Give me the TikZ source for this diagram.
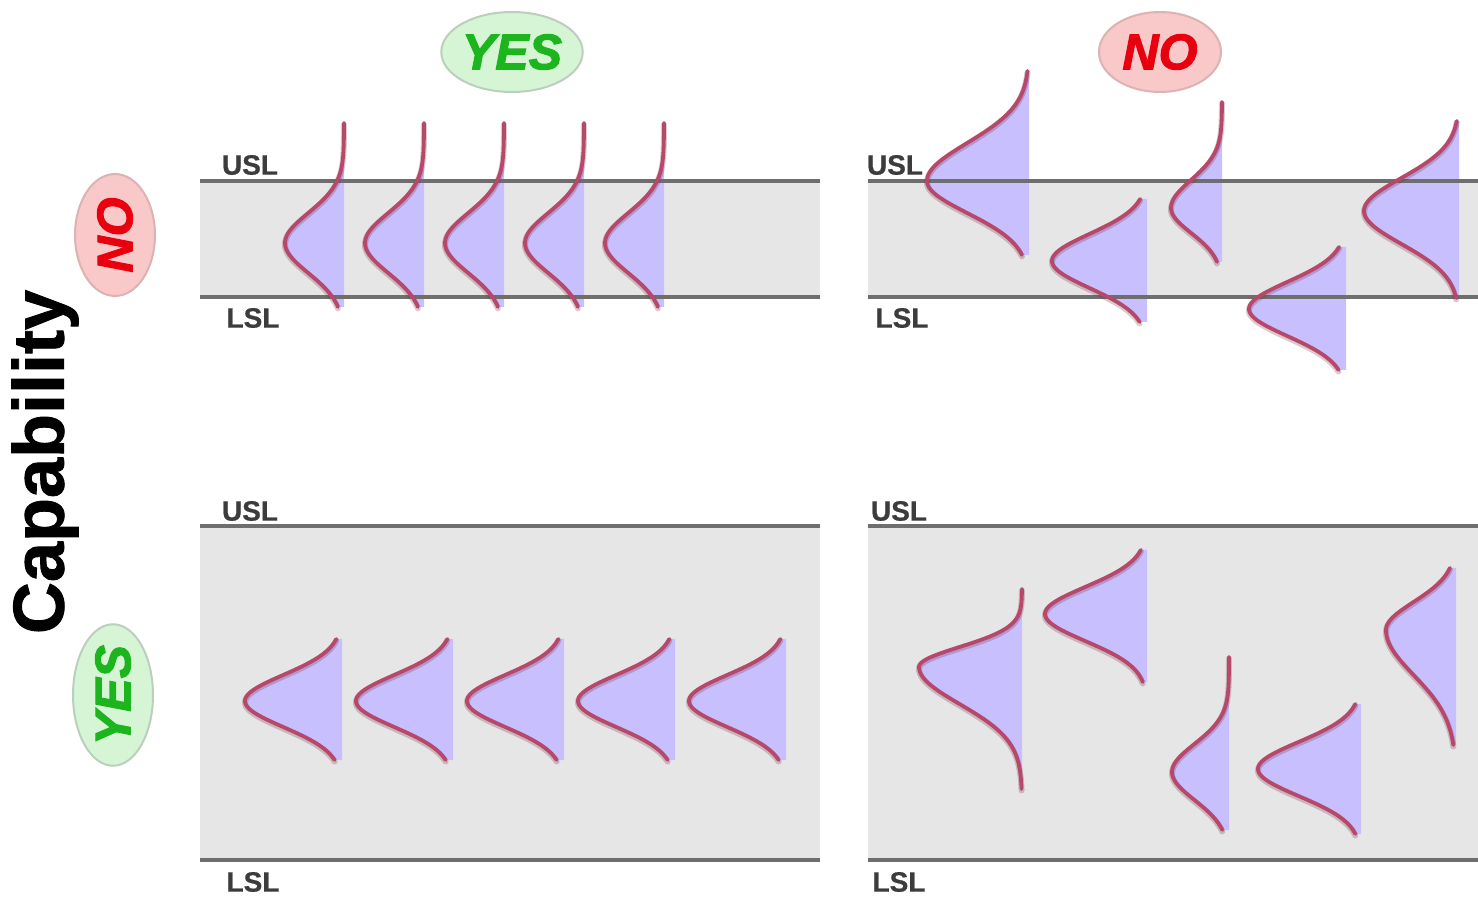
\documentclass[tikz,border=0pt]{standalone}
\usepackage{fontspec}
\setmainfont{Liberation Sans}
\newfontfamily\badgefont[BoldItalicFeatures={FakeBold=2.2}]{Liberation Sans}
\newfontfamily\titlefont[BoldFeatures={FakeBold=1.2}]{Liberation Sans}
\newfontfamily\limitfont[BoldFeatures={FakeBold=0.6}]{Liberation Sans}
\usetikzlibrary{shapes.geometric}

\definecolor{bandgray}{HTML}{E6E6E6}
\definecolor{limitline}{HTML}{6E6E6E}
\definecolor{labelgray}{HTML}{3C3C3C}
\definecolor{bellfill}{HTML}{C8BFFF}
\definecolor{bellline}{HTML}{B8486A}
\definecolor{yesfill}{HTML}{D5F5D5}
\definecolor{yesedge}{HTML}{BCCFBC}
\definecolor{yestext}{HTML}{1DB51D}
\definecolor{nofill}{HTML}{F9C8C8}
\definecolor{noedge}{HTML}{DDB2B2}
\definecolor{notext}{HTML}{E8000E}

\begin{document}
\begin{tikzpicture}[x=0.5pt,y=-0.5pt,
  limit/.style={draw=limitline,line width=2pt},
  lbl/.style={text=labelgray,font=\limitfont\fontsize{14}{14}\selectfont\bfseries,inner sep=0pt},
  verdict/.style={ellipse,minimum width=61pt,minimum height=40pt,inner sep=0pt,
    line width=1pt,font=\badgefont\fontsize{25}{25}\selectfont\bfseries\itshape},
  yesmark/.style={verdict,fill=yesfill,draw=yesedge,text=yestext},
  nomark/.style={verdict,fill=nofill,draw=noedge,text=notext},
  bellarea/.style={fill=bellfill},
  bellhalo/.style={draw=bellline!60!black,opacity=0.25,line width=3pt,line cap=round},
  bellcurve/.style={draw=bellline,line width=1.9pt,line cap=round,line join=round}]

\useasboundingbox (0,0) rectangle (1478,897);

% tolerance bands between the specification limits
\fill[bandgray] (200,181) rectangle (820,297);
\fill[bandgray] (868,181) rectangle (1478,297);
\fill[bandgray] (200,526) rectangle (820,860);
\fill[bandgray] (868,526) rectangle (1478,860);

% distributions: right edge / mean / height / sigma above / sigma below / extent above / extent below
\def\bells{344/243/59/30/30/120/64, 424/243/59/30/30/120/64, 504/243/59/30/30/120/64,
  584/243/59/30/30/120/64, 664/243/59/30/30/120/64,
  1029/181/102/38/32/110/74, 1147/261/95/27/27/62/61, 1222/208/51/28/25/106/54,
  1346/309/97/27/27/62/61, 1459/211/95/33/33/90/87,
  342/701/97/26/26/62/59, 453/701/97/26/26/62/59, 564/701/97/26/26/62/59,
  675/701/97/26/26/62/59, 786/701/97/26/26/62/59,
  1022/667/103/20/37/78/122, 1147/614/102/27/27/64/68, 1229/772/57/28/28/115/58,
  1361/769/103/27/27/65/65, 1456/630/70/28/45/62/115}

\foreach \xr/\mu/\A/\su/\sd/\up/\dn in \bells {
  \fill[bellarea]
    plot[domain=-\up:0,samples=50,variable=\t] ({\xr-\A*exp(-0.5*(\t/\su)*(\t/\su))},{\mu+\t})
    -- plot[domain=0:\dn,samples=50,variable=\t] ({\xr-\A*exp(-0.5*(\t/\sd)*(\t/\sd))},{\mu+\t})
    -- (\xr,\mu+\dn) -- (\xr,\mu-\up) -- cycle;
}

% specification limit lines
\draw[limit] (200,181) -- (820,181);
\draw[limit] (200,297) -- (820,297);
\draw[limit] (868,181) -- (1478,181);
\draw[limit] (868,297) -- (1478,297);
\draw[limit] (200,526) -- (820,526);
\draw[limit] (200,860) -- (820,860);
\draw[limit] (868,526) -- (1478,526);
\draw[limit] (868,860) -- (1478,860);

% outlines of the distributions
\foreach \xr/\mu/\A/\su/\sd/\up/\dn in \bells {
  \draw[bellhalo]
    plot[domain=-\up:0,samples=50,variable=\t] ({\xr-\A*exp(-0.5*(\t/\su)*(\t/\su))},{\mu+\t+1.5})
    -- plot[domain=0:\dn,samples=50,variable=\t] ({\xr-\A*exp(-0.5*(\t/\sd)*(\t/\sd))},{\mu+\t+1.5});
  \draw[bellcurve]
    plot[domain=-\up:0,samples=50,variable=\t] ({\xr-\A*exp(-0.5*(\t/\su)*(\t/\su))},{\mu+\t})
    -- plot[domain=0:\dn,samples=50,variable=\t] ({\xr-\A*exp(-0.5*(\t/\sd)*(\t/\sd))},{\mu+\t});
}

% limit labels
\node[lbl] (tlusl) at (250,165) {USL};
\node[lbl] (tllsl) at (253,318) {LSL};
\node[lbl] (trusl) at (895,165) {USL};
\node[lbl] (trlsl) at (902,318) {LSL};
\node[lbl] (blusl) at (250,511) {USL};
\node[lbl] (bllsl) at (253,882) {LSL};
\node[lbl] (brusl) at (899,511) {USL};
\node[lbl] (brlsl) at (899,882) {LSL};

% verdict badges
\node[yesmark] (colyes) at (512,52) {YES};
\node[nomark] (colno) at (1160,52) {NO};
\node[nomark,rotate=90] (rowno) at (115,235) {NO};
\node[yesmark,rotate=90] (rowyes) at (113,695) {YES};

% axis title
\node[font=\titlefont\fontsize{36}{36}\selectfont\bfseries,rotate=90,inner sep=0pt] (axis) at (45,462) {Capability};
\end{tikzpicture}
\end{document}
